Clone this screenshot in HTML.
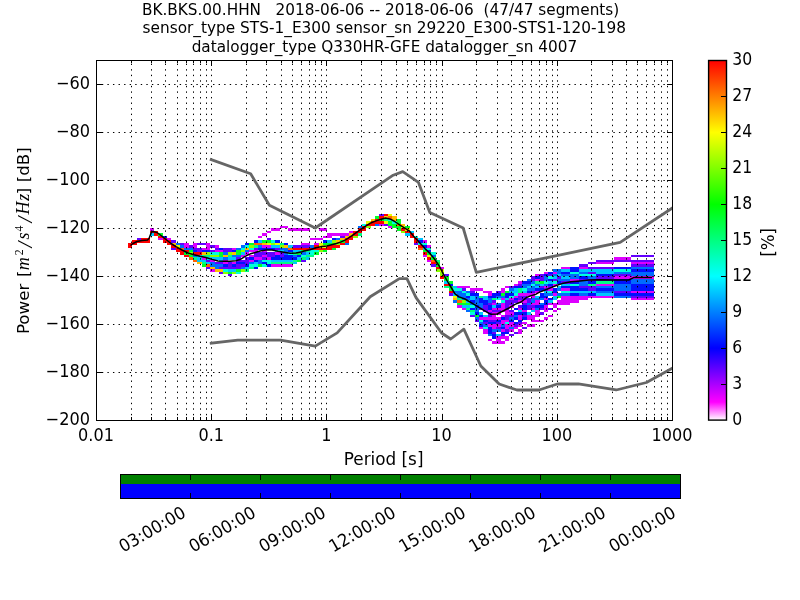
<!DOCTYPE html>
<html><head><meta charset="utf-8"><title>PPSD BK.BKS.00.HHN</title>
<style>html,body{margin:0;padding:0;background:#fff}svg{display:block}text{font-family:"DejaVu Sans","Liberation Sans",sans-serif;fill:#000}</style></head><body>
<svg width="800" height="600" viewBox="0 0 800 600">
<defs><clipPath id="ax"><rect x="96" y="60" width="576" height="360"/></clipPath>
<linearGradient id="pqlx" x1="0" y1="1" x2="0" y2="0"><stop offset="0" stop-color="#fff"/><stop offset="0.05" stop-color="#f0f"/><stop offset="0.2" stop-color="#00f"/><stop offset="0.4" stop-color="#0ff"/><stop offset="0.6" stop-color="#0f0"/><stop offset="0.8" stop-color="#ff0"/><stop offset="1" stop-color="#f00"/></linearGradient></defs>
<rect width="800" height="600" fill="#fff"/>
<g id="heat" shape-rendering="crispEdges"><path fill="#ff0000" d="M128 243h4v5h-4zM132 240h5v5h-5zM137 240h4v3h-4zM141 238h4v5h-4zM145 238h5v5h-5zM150 231h4v2h-4zM154 231h4v5h-4zM158 236h5v2h-5zM163 238h4v5h-4zM167 240h4v5h-4zM171 245h5v3h-5zM176 248h4v4h-4zM180 250h4v5h-4zM184 250h5v2h-5zM184 255h5v2h-5zM193 252h4v3h-4zM197 252h5v3h-5zM293 248h4v2h-4zM297 248h4v2h-4zM301 248h5v2h-5zM306 248h4v2h-4zM310 248h4v2h-4zM314 245h5v5h-5zM319 248h4v2h-4zM323 248h4v2h-4zM327 245h5v5h-5zM332 245h4v3h-4zM336 245h4v3h-4zM340 243h5v2h-5zM345 238h4v5h-4zM349 236h4v4h-4zM353 231h5v5h-5zM358 228h4v5h-4zM362 226h4v5h-4zM366 224h5v2h-5zM371 221h4v5h-4zM375 219h4v5h-4zM379 216h5v3h-5zM379 221h5v3h-5zM384 214h4v2h-4zM401 228h4v3h-4zM405 231h5v2h-5zM410 233h4v5h-4zM414 238h4v5h-4zM418 245h5v3h-5zM423 252h4v3h-4zM427 257h4v3h-4zM431 262h5v2h-5zM436 267h4v2h-4zM440 276h4v3h-4zM444 284h5v2h-5zM449 291h4v2h-4z"/><path fill="#6300ff" d="M137 238h4v2h-4zM171 240h5v3h-5zM171 248h5v2h-5zM180 243h4v2h-4zM189 245h4v3h-4zM193 248h4v2h-4zM197 243h5v2h-5zM197 248h5v4h-5zM202 243h4v2h-4zM206 260h4v2h-4zM206 267h4v2h-4zM210 245h5v3h-5zM210 250h5v2h-5zM215 248h4v2h-4zM215 262h4v2h-4zM219 262h4v2h-4zM219 267h4v2h-4zM219 272h4v2h-4zM223 248h5v4h-5zM223 267h5v2h-5zM228 248h4v4h-4zM228 262h4v7h-4zM228 274h4v2h-4zM232 267h4v2h-4zM236 257h5v5h-5zM236 264h5v5h-5zM241 260h4v2h-4zM241 264h4v3h-4zM245 257h4v7h-4zM254 248h4v2h-4zM254 252h4v5h-4zM258 252h4v5h-4zM262 252h5v3h-5zM262 257h5v3h-5zM267 238h4v2h-4zM267 252h4v5h-4zM271 252h4v5h-4zM275 248h5v2h-5zM280 252h4v5h-4zM293 245h4v3h-4zM297 245h4v3h-4zM301 245h5v3h-5zM301 260h5v2h-5zM306 245h4v3h-4zM340 236h5v2h-5zM379 214h5v2h-5zM384 224h4v2h-4zM414 243h4v2h-4zM431 264h5v3h-5zM444 274h5v2h-5zM449 293h4v3h-4zM462 288h4v3h-4zM470 291h5v2h-5zM470 315h5v2h-5zM475 320h4v2h-4zM479 308h4v2h-4zM483 305h5v7h-5zM483 322h5v2h-5zM488 303h4v2h-4zM488 312h4v5h-4zM488 320h4v2h-4zM492 300h4v3h-4zM492 310h4v2h-4zM492 320h4v2h-4zM492 332h4v2h-4zM496 291h5v2h-5zM496 310h5v2h-5zM496 322h5v2h-5zM496 327h5v2h-5zM501 334h4v2h-4zM505 300h4v10h-4zM505 315h4v5h-4zM505 329h4v3h-4zM509 286h5v2h-5zM509 300h5v5h-5zM509 310h5v2h-5zM509 315h5v2h-5zM509 334h5v2h-5zM514 300h4v3h-4zM514 324h4v3h-4zM514 332h4v2h-4zM518 284h4v2h-4zM518 296h4v4h-4zM518 305h4v3h-4zM518 322h4v2h-4zM522 296h5v4h-5zM522 303h5v2h-5zM522 315h5v2h-5zM522 327h5v2h-5zM527 298h4v5h-4zM527 305h4v5h-4zM531 276h4v5h-4zM531 291h4v2h-4zM531 305h4v3h-4zM540 274h4v7h-4zM540 286h4v2h-4zM540 308h4v2h-4zM540 312h4v3h-4zM544 288h4v3h-4zM548 274h5v2h-5zM548 286h5v2h-5zM548 308h5v2h-5zM553 279h4v2h-4zM557 276h4v3h-4zM561 281h9v3h-9zM579 264h9v3h-9zM579 279h9v2h-9zM579 286h9v2h-9zM588 262h8v2h-8zM588 267h8v2h-8zM588 272h8v2h-8zM588 279h8v2h-8zM588 286h8v5h-8zM596 260h18v2h-18zM596 267h18v2h-18zM596 276h18v5h-18zM614 260h17v2h-17zM614 274h17v2h-17zM614 291h17v2h-17zM631 255h23v2h-23zM631 260h23v2h-23zM631 264h23v3h-23zM631 296h23v2h-23z"/><path fill="#dd00ff" d="M150 228h4v3h-4zM158 238h5v2h-5zM167 238h4v2h-4zM184 243h5v5h-5zM193 243h4v5h-4zM202 248h4v2h-4zM202 257h4v3h-4zM206 243h4v7h-4zM210 260h5v2h-5zM210 269h5v3h-5zM215 245h4v3h-4zM215 250h4v2h-4zM219 250h4v2h-4zM223 260h5v4h-5zM232 248h4v2h-4zM232 262h4v2h-4zM241 255h4v2h-4zM245 252h4v3h-4zM249 250h5v2h-5zM249 255h5v2h-5zM249 260h5v2h-5zM254 250h4v2h-4zM254 257h4v3h-4zM258 236h4v2h-4zM258 257h4v3h-4zM262 233h5v3h-5zM262 245h5v3h-5zM262 250h5v2h-5zM262 255h5v2h-5zM267 231h4v2h-4zM267 245h4v3h-4zM267 257h4v3h-4zM271 228h4v3h-4zM271 264h4v3h-4zM275 228h5v3h-5zM275 252h5v3h-5zM275 264h5v3h-5zM280 226h4v2h-4zM280 264h4v3h-4zM284 226h4v2h-4zM284 264h4v3h-4zM288 228h5v3h-5zM288 264h5v3h-5zM293 228h4v3h-4zM297 228h4v3h-4zM301 228h5v3h-5zM301 243h5v2h-5zM306 228h4v3h-4zM306 243h4v2h-4zM310 238h4v2h-4zM314 238h5v2h-5zM314 243h5v2h-5zM319 228h4v3h-4zM319 238h4v2h-4zM323 228h4v3h-4zM323 236h4v2h-4zM327 233h5v5h-5zM332 233h4v3h-4zM336 233h4v3h-4zM340 233h5v3h-5zM345 233h4v3h-4zM349 231h4v2h-4zM379 224h5v2h-5zM388 226h4v2h-4zM423 240h4v3h-4zM423 255h4v2h-4zM427 245h4v3h-4zM427 260h4v2h-4zM440 267h4v2h-4zM457 286h5v2h-5zM457 305h5v3h-5zM462 286h4v2h-4zM462 308h4v2h-4zM466 286h4v2h-4zM470 288h5v3h-5zM475 288h4v3h-4zM479 288h4v3h-4zM479 317h4v3h-4zM479 327h4v2h-4zM483 291h5v2h-5zM483 317h5v3h-5zM483 329h5v5h-5zM488 291h4v5h-4zM488 310h4v2h-4zM488 317h4v3h-4zM488 324h4v3h-4zM488 339h4v2h-4zM492 303h4v2h-4zM492 308h4v2h-4zM492 312h4v8h-4zM492 324h4v5h-4zM492 341h4v3h-4zM496 308h5v2h-5zM496 312h5v3h-5zM496 317h5v3h-5zM496 324h5v3h-5zM496 336h5v8h-5zM501 288h4v5h-4zM501 298h4v2h-4zM501 303h4v9h-4zM501 315h4v2h-4zM501 320h4v4h-4zM501 329h4v3h-4zM501 336h4v3h-4zM501 341h4v3h-4zM505 286h4v2h-4zM505 310h4v5h-4zM505 320h4v2h-4zM505 324h4v5h-4zM505 336h4v5h-4zM509 298h5v2h-5zM509 305h5v3h-5zM509 312h5v3h-5zM509 322h5v5h-5zM509 329h5v3h-5zM514 284h4v2h-4zM514 296h4v2h-4zM514 327h4v2h-4zM518 281h4v3h-4zM518 293h4v3h-4zM518 300h4v3h-4zM518 308h4v2h-4zM518 315h4v5h-4zM518 324h4v3h-4zM518 329h4v5h-4zM522 293h5v3h-5zM522 300h5v3h-5zM522 310h5v2h-5zM522 322h5v2h-5zM527 293h4v3h-4zM527 315h4v5h-4zM527 324h4v3h-4zM531 293h4v5h-4zM531 303h4v2h-4zM531 308h4v2h-4zM531 315h4v7h-4zM531 324h4v3h-4zM535 274h5v2h-5zM535 279h5v2h-5zM535 291h5v2h-5zM535 300h5v5h-5zM535 310h5v7h-5zM535 320h5v2h-5zM540 320h4v2h-4zM544 272h4v2h-4zM544 286h4v2h-4zM544 298h4v2h-4zM544 305h4v7h-4zM544 317h4v3h-4zM548 288h5v3h-5zM548 303h5v2h-5zM548 315h5v2h-5zM553 272h4v2h-4zM553 284h4v2h-4zM553 293h4v3h-4zM553 303h4v5h-4zM553 310h4v2h-4zM557 300h4v5h-4zM557 308h4v2h-4zM561 267h9v2h-9zM561 288h9v3h-9zM561 296h9v9h-9zM570 279h9v2h-9zM570 296h9v7h-9zM579 267h9v2h-9zM579 296h9v4h-9zM588 296h8v2h-8zM596 262h18v2h-18zM596 284h18v2h-18zM596 296h18v2h-18zM614 257h17v3h-17zM614 276h17v3h-17zM631 262h23v2h-23zM631 276h23v3h-23zM631 291h23v2h-23zM631 298h23v2h-23z"/><path fill="#00c5ff" d="M150 233h4v3h-4zM197 255h5v7h-5zM202 260h4v2h-4zM206 257h4v3h-4zM206 262h4v2h-4zM210 257h5v3h-5zM215 257h4v3h-4zM219 257h4v5h-4zM228 257h4v3h-4zM228 269h4v3h-4zM232 257h4v3h-4zM232 269h4v3h-4zM241 252h4v3h-4zM245 267h4v2h-4zM254 262h4v2h-4zM258 240h4v3h-4zM271 245h4v3h-4zM271 260h4v2h-4zM275 245h5v3h-5zM275 260h5v2h-5zM280 250h4v2h-4zM280 260h4v2h-4zM284 260h4v2h-4zM288 245h5v3h-5zM288 260h5v2h-5zM293 250h4v2h-4zM293 262h4v2h-4zM297 250h4v2h-4zM297 257h4v3h-4zM306 252h4v3h-4zM306 257h4v3h-4zM327 240h5v3h-5zM405 233h5v3h-5zM410 231h4v2h-4zM418 238h5v2h-5zM423 248h4v2h-4zM444 281h5v3h-5zM453 286h4v2h-4zM453 293h4v3h-4zM462 305h4v3h-4zM466 300h4v3h-4zM466 305h4v3h-4zM470 296h5v4h-5zM479 312h4v3h-4zM483 296h5v4h-5zM483 315h5v2h-5zM492 305h4v3h-4zM496 334h5v2h-5zM505 298h4v2h-4zM509 291h5v2h-5zM514 288h4v5h-4zM518 310h4v2h-4zM522 291h5v2h-5zM527 286h4v2h-4zM527 312h4v3h-4zM531 310h4v2h-4zM535 286h5v2h-5zM535 296h5v2h-5zM540 284h4v2h-4zM544 291h4v2h-4zM548 281h5v3h-5zM548 300h5v3h-5zM553 276h4v3h-4zM553 296h4v4h-4zM557 274h4v2h-4zM557 286h4v2h-4zM561 269h9v3h-9zM561 276h9v3h-9zM561 284h9v2h-9zM570 291h9v2h-9zM579 269h9v3h-9zM579 291h9v2h-9zM588 269h8v3h-8zM588 291h8v2h-8zM596 269h18v5h-18zM596 293h18v3h-18z"/><path fill="#00ff2a" d="M158 233h5v3h-5zM184 252h5v3h-5zM189 250h4v2h-4zM189 255h4v2h-4zM202 264h4v3h-4zM219 252h4v5h-4zM228 272h4v2h-4zM236 250h5v5h-5zM236 269h5v3h-5zM249 243h5v2h-5zM258 264h4v3h-4zM262 240h5v3h-5zM267 240h4v3h-4zM297 252h4v3h-4zM297 260h4v2h-4zM301 250h5v2h-5zM314 252h5v3h-5zM323 243h4v2h-4zM323 250h4v2h-4zM327 243h5v2h-5zM332 243h4v2h-4zM332 248h4v2h-4zM340 240h5v3h-5zM375 216h4v3h-4zM379 219h5v2h-5zM388 221h4v5h-4zM392 224h5v4h-5zM397 219h4v5h-4zM397 226h4v5h-4zM405 226h5v2h-5zM423 250h4v2h-4zM427 252h4v3h-4zM431 257h5v3h-5zM436 262h4v5h-4zM444 276h5v5h-5zM449 281h4v3h-4zM449 286h4v5h-4zM457 303h5v2h-5zM462 303h4v2h-4zM466 303h4v2h-4zM475 315h4v2h-4zM501 293h4v3h-4zM505 291h4v2h-4zM540 281h4v3h-4zM557 296h4v2h-4z"/><path fill="#0011ff" d="M163 236h4v2h-4zM193 250h4v2h-4zM202 250h4v2h-4zM206 250h4v2h-4zM219 248h4v2h-4zM223 264h5v3h-5zM232 250h4v2h-4zM232 264h4v3h-4zM236 262h5v2h-5zM241 262h4v2h-4zM245 243h4v2h-4zM245 264h4v3h-4zM249 257h5v3h-5zM254 240h4v3h-4zM254 260h4v2h-4zM254 267h4v2h-4zM258 248h4v2h-4zM262 248h5v2h-5zM262 262h5v2h-5zM267 248h4v2h-4zM267 264h4v3h-4zM271 248h4v2h-4zM271 257h4v3h-4zM275 240h5v3h-5zM275 255h5v5h-5zM280 257h4v3h-4zM284 243h4v2h-4zM284 255h4v5h-4zM288 250h5v2h-5zM288 255h5v5h-5zM293 257h4v3h-4zM297 255h4v2h-4zM323 240h4v3h-4zM332 238h4v2h-4zM418 240h5v3h-5zM423 245h4v3h-4zM427 250h4v2h-4zM449 284h4v2h-4zM466 296h4v2h-4zM470 293h5v3h-5zM470 300h5v3h-5zM470 308h5v2h-5zM475 293h4v3h-4zM475 305h4v3h-4zM475 312h4v3h-4zM479 298h4v5h-4zM479 315h4v2h-4zM479 324h4v3h-4zM483 300h5v5h-5zM483 320h5v2h-5zM488 296h4v2h-4zM488 305h4v5h-4zM488 322h4v2h-4zM488 327h4v7h-4zM492 293h4v5h-4zM492 322h4v2h-4zM492 334h4v5h-4zM496 293h5v3h-5zM496 305h5v3h-5zM496 320h5v2h-5zM501 317h4v3h-4zM501 327h4v2h-4zM501 332h4v2h-4zM505 293h4v5h-4zM505 332h4v2h-4zM509 293h5v3h-5zM509 320h5v2h-5zM514 286h4v2h-4zM514 298h4v2h-4zM514 308h4v2h-4zM514 312h4v3h-4zM514 317h4v3h-4zM514 322h4v2h-4zM518 286h4v2h-4zM518 312h4v3h-4zM518 320h4v2h-4zM522 281h5v3h-5zM522 305h5v5h-5zM522 312h5v3h-5zM522 317h5v3h-5zM527 281h4v3h-4zM527 291h4v2h-4zM535 276h5v3h-5zM535 288h5v3h-5zM535 305h5v3h-5zM540 288h4v3h-4zM540 293h4v5h-4zM540 305h4v3h-4zM544 274h4v2h-4zM544 296h4v2h-4zM544 300h4v5h-4zM548 272h5v2h-5zM548 279h5v2h-5zM548 284h5v2h-5zM548 298h5v2h-5zM553 288h4v5h-4zM557 281h4v3h-4zM561 272h9v2h-9zM561 286h9v2h-9zM570 267h9v5h-9zM570 281h9v3h-9zM570 286h9v5h-9zM570 293h9v3h-9zM579 276h9v3h-9zM579 288h9v3h-9zM588 281h8v3h-8zM588 293h8v3h-8zM596 274h18v2h-18zM596 288h18v3h-18zM614 267h17v2h-17zM614 279h17v5h-17zM614 293h17v3h-17zM631 269h23v3h-23zM631 284h23v7h-23zM631 293h23v3h-23z"/><path fill="#ffbe00" d="M171 243h5v2h-5zM197 262h5v2h-5zM202 252h4v3h-4zM210 267h5v2h-5zM215 269h4v3h-4zM219 269h4v3h-4zM223 255h5v2h-5zM232 252h4v3h-4zM245 248h4v2h-4zM262 243h5v2h-5zM284 245h4v3h-4zM336 240h4v3h-4zM340 238h5v2h-5zM345 236h4v2h-4zM349 233h4v3h-4zM371 219h4v2h-4zM384 216h4v3h-4zM392 216h5v5h-5zM401 224h4v2h-4zM453 298h4v2h-4z"/><path fill="#006bff" d="M176 243h4v2h-4zM180 245h4v3h-4zM184 248h5v2h-5zM189 248h4v2h-4zM193 255h4v2h-4zM210 262h5v5h-5zM215 264h4v5h-4zM219 264h4v3h-4zM223 252h5v3h-5zM223 257h5v3h-5zM232 255h4v2h-4zM236 248h5v2h-5zM236 255h5v2h-5zM241 245h4v3h-4zM241 267h4v2h-4zM245 250h4v2h-4zM249 262h5v2h-5zM258 245h4v3h-4zM258 260h4v4h-4zM280 248h4v2h-4zM284 248h4v7h-4zM293 255h4v2h-4zM301 252h5v3h-5zM310 245h4v3h-4zM336 238h4v2h-4zM345 243h4v2h-4zM358 226h4v2h-4zM375 224h4v2h-4zM431 255h5v2h-5zM453 291h4v2h-4zM453 300h4v3h-4zM457 291h5v7h-5zM462 293h4v7h-4zM466 291h4v2h-4zM466 298h4v2h-4zM466 310h4v2h-4zM470 303h5v2h-5zM475 296h4v9h-4zM475 308h4v4h-4zM475 317h4v3h-4zM479 303h4v5h-4zM479 322h4v2h-4zM483 324h5v3h-5zM488 298h4v5h-4zM488 334h4v2h-4zM492 329h4v3h-4zM496 296h5v2h-5zM496 303h5v2h-5zM496 329h5v3h-5zM501 296h4v2h-4zM501 324h4v3h-4zM509 288h5v3h-5zM509 317h5v3h-5zM509 327h5v2h-5zM514 315h4v2h-4zM522 284h5v4h-5zM527 279h4v2h-4zM527 284h4v2h-4zM527 288h4v3h-4zM527 303h4v2h-4zM531 281h4v3h-4zM531 286h4v5h-4zM531 298h4v5h-4zM535 284h5v2h-5zM535 298h5v2h-5zM535 308h5v2h-5zM540 298h4v2h-4zM540 303h4v2h-4zM544 276h4v5h-4zM544 284h4v2h-4zM544 293h4v3h-4zM548 293h5v3h-5zM553 269h4v3h-4zM553 274h4v2h-4zM557 269h4v5h-4zM557 279h4v2h-4zM557 288h4v3h-4zM557 293h4v3h-4zM561 274h9v2h-9zM561 279h9v2h-9zM561 293h9v3h-9zM570 274h9v5h-9zM579 272h9v2h-9zM579 281h9v5h-9zM579 293h9v3h-9zM588 276h8v3h-8zM596 286h18v2h-18zM596 291h18v2h-18zM614 272h17v2h-17zM614 284h17v7h-17zM614 296h17v2h-17zM631 267h23v2h-23zM631 272h23v4h-23zM631 279h23v5h-23z"/><path fill="#e6ff00" d="M176 245h4v3h-4zM267 243h4v2h-4zM275 243h5v2h-5zM319 243h4v5h-4zM323 245h4v3h-4zM366 221h5v3h-5zM384 221h4v3h-4zM388 214h4v2h-4zM401 226h4v2h-4zM405 228h5v3h-5zM427 255h4v2h-4zM440 269h4v3h-4zM453 296h4v2h-4z"/><path fill="#ff6300" d="M180 248h4v2h-4zM189 257h4v3h-4zM193 260h4v2h-4zM206 264h4v3h-4zM254 243h4v2h-4zM258 243h4v2h-4zM288 248h5v2h-5zM388 216h4v3h-4zM397 224h4v2h-4zM418 248h5v2h-5zM431 260h5v2h-5zM457 300h5v3h-5z"/><path fill="#8bff00" d="M189 252h4v3h-4zM206 252h4v3h-4zM210 255h5v2h-5zM215 255h4v2h-4zM223 272h5v2h-5zM228 252h4v3h-4zM232 272h4v2h-4zM241 250h4v2h-4zM241 269h4v3h-4zM249 245h5v3h-5zM271 243h4v2h-4zM280 245h4v3h-4zM319 250h4v2h-4zM332 240h4v3h-4zM336 243h4v2h-4zM353 236h5v2h-5zM366 226h5v2h-5zM401 231h4v2h-4zM436 269h4v3h-4zM440 272h4v4h-4zM462 300h4v3h-4z"/><path fill="#00ff84" d="M193 257h4v3h-4zM202 255h4v2h-4zM202 262h4v2h-4zM206 255h4v2h-4zM228 255h4v2h-4zM245 269h4v3h-4zM249 267h5v2h-5zM254 245h4v3h-4zM271 262h4v2h-4zM275 262h5v2h-5zM280 243h4v2h-4zM280 262h4v2h-4zM284 262h4v2h-4zM288 262h5v2h-5zM293 252h4v3h-4zM293 260h4v2h-4zM301 257h5v3h-5zM306 250h4v2h-4zM306 255h4v2h-4zM310 255h4v2h-4zM358 233h4v3h-4zM384 219h4v2h-4zM436 260h4v2h-4zM444 286h5v2h-5zM457 298h5v2h-5zM466 308h4v2h-4zM470 310h5v2h-5zM479 296h4v2h-4zM492 298h4v2h-4zM518 288h4v5h-4zM535 281h5v3h-5zM588 284h8v2h-8zM596 281h18v3h-18z"/><path fill="#00ffde" d="M210 252h5v3h-5zM215 252h4v3h-4zM223 269h5v3h-5zM236 272h5v2h-5zM241 248h4v2h-4zM245 245h4v3h-4zM249 248h5v2h-5zM249 264h5v3h-5zM254 264h4v3h-4zM262 260h5v2h-5zM262 264h5v3h-5zM267 260h4v4h-4zM271 240h4v3h-4zM275 250h5v2h-5zM288 252h5v3h-5zM301 255h5v2h-5zM310 250h4v5h-4zM314 250h5v2h-5zM362 224h4v2h-4zM388 219h4v2h-4zM392 221h5v3h-5zM414 236h4v2h-4zM418 243h5v2h-5zM423 243h4v2h-4zM427 248h4v2h-4zM431 252h5v3h-5zM453 288h4v3h-4zM457 288h5v3h-5zM462 291h4v2h-4zM466 293h4v3h-4zM470 305h5v3h-5zM470 312h5v3h-5zM479 320h4v2h-4zM483 327h5v2h-5zM496 298h5v2h-5zM501 300h4v3h-4zM505 322h4v2h-4zM509 296h5v2h-5zM514 293h4v3h-4zM522 288h5v3h-5zM531 284h4v2h-4zM544 281h4v3h-4zM548 276h5v3h-5zM548 291h5v2h-5zM553 281h4v3h-4zM561 291h9v2h-9zM570 272h9v2h-9zM570 284h9v2h-9zM579 274h9v2h-9zM588 274h8v2h-8zM614 269h17v3h-17z"/></g>
<path d="M131.5 420V60M151.5 420V60M165.5 420V60M177.5 420V60M186.5 420V60M193.5 420V60M200.5 420V60M206.5 420V60M211.5 420V60M246.5 420V60M266.5 420V60M281.5 420V60M292.5 420V60M301.5 420V60M309.5 420V60M315.5 420V60M321.5 420V60M326.5 420V60M361.5 420V60M381.5 420V60M396.5 420V60M407.5 420V60M416.5 420V60M424.5 420V60M430.5 420V60M436.5 420V60M442.5 420V60M476.5 420V60M497.5 420V60M511.5 420V60M522.5 420V60M531.5 420V60M539.5 420V60M546.5 420V60M552.5 420V60M557.5 420V60M591.5 420V60M612.5 420V60M626.5 420V60M637.5 420V60M646.5 420V60M654.5 420V60M661.5 420V60M667.5 420V60" stroke="#000" stroke-width="1" stroke-dasharray="1.39 4.17" stroke-dashoffset="0.85" fill="none"/>
<path d="M96 372.5H672M96 324.5H672M96 276.5H672M96 228.5H672M96 180.5H672M96 132.5H672M96 84.5H672" stroke="#000" stroke-width="1" stroke-dasharray="1.39 4.17" stroke-dashoffset="-0.3" fill="none"/>
<g clip-path="url(#ax)" fill="none" stroke="#666" stroke-width="2.78" stroke-linejoin="round" stroke-linecap="square">
<polyline points="211.20,159.60 250.65,173.77 269.39,205.20 315.24,228.00 393.19,175.19 402.75,171.59 418.48,182.40 429.81,212.39 463.20,228.01 476.28,272.39 620.16,242.41 672.00,208.25"/>
<polyline points="211.20,343.20 237.75,340.08 280.56,340.07 315.24,346.08 337.16,332.87 370.20,296.75 399.38,278.64 406.92,278.63 416.04,297.60 441.60,333.00 450.72,338.99 463.85,329.11 480.82,366.01 499.16,383.99 516.85,390.00 538.96,390.00 557.30,384.00 578.40,383.97 616.23,389.98 646.44,382.51 672.00,368.35"/>
</g>
<polyline fill="none" stroke="#000" stroke-width="1.5" stroke-linejoin="round" points="130.5,245.5 133.0,243.5 137.0,241.5 142.0,240.5 147.5,240.0 149.0,238.5 151.5,232.0 153.0,231.5 157.0,232.5 161.0,235.5 166.0,239.5 171.0,243.5 176.0,246.7 182.0,250.0 188.0,253.0 194.0,254.8 200.0,256.3 206.0,257.5 212.0,259.4 218.0,261.0 224.0,261.3 230.0,261.3 236.0,260.7 240.8,259.2 245.6,256.2 250.4,253.8 255.2,252.5 260.0,251.0 266.0,250.1 272.0,250.1 278.0,251.3 284.0,252.3 290.0,253.2 296.0,253.0 302.0,251.8 304.0,251.0 310.0,249.8 316.0,247.7 322.0,246.5 326.8,245.9 331.6,244.7 336.4,243.5 341.2,241.9 346.0,239.6 352.0,235.6 358.0,231.4 364.0,227.2 370.0,223.3 376.0,220.9 382.0,219.0 385.6,218.0 389.8,218.9 394.0,221.0 400.0,225.2 406.0,228.8 409.6,231.2 413.4,236.0 419.0,242.0 425.0,248.6 429.8,253.4 434.5,259.0 439.6,266.6 443.8,275.0 448.4,283.0 451.8,288.5 454.8,293.6 459.0,296.9 465.0,299.0 471.0,302.6 477.0,306.2 483.0,309.8 489.0,313.4 491.0,314.3 497.0,314.0 503.0,311.0 509.0,308.0 515.0,304.4 521.0,302.0 527.0,297.2 531.2,295.6 536.0,294.2 539.0,292.4 545.0,290.0 551.0,287.6 557.0,285.2 562.0,283.6 571.0,281.8 580.0,280.9 589.0,280.0 598.0,279.8 614.0,280.0 628.8,280.0 633.6,277.6 652.0,277.6"/>
<path d="M131.5 420v-2.8M131.5 60v2.8M151.5 420v-2.8M151.5 60v2.8M165.5 420v-2.8M165.5 60v2.8M177.5 420v-2.8M177.5 60v2.8M186.5 420v-2.8M186.5 60v2.8M193.5 420v-2.8M193.5 60v2.8M200.5 420v-2.8M200.5 60v2.8M206.5 420v-2.8M206.5 60v2.8M211.5 420v-5.5M211.5 60v5.5M246.5 420v-2.8M246.5 60v2.8M266.5 420v-2.8M266.5 60v2.8M281.5 420v-2.8M281.5 60v2.8M292.5 420v-2.8M292.5 60v2.8M301.5 420v-2.8M301.5 60v2.8M309.5 420v-2.8M309.5 60v2.8M315.5 420v-2.8M315.5 60v2.8M321.5 420v-2.8M321.5 60v2.8M326.5 420v-5.5M326.5 60v5.5M361.5 420v-2.8M361.5 60v2.8M381.5 420v-2.8M381.5 60v2.8M396.5 420v-2.8M396.5 60v2.8M407.5 420v-2.8M407.5 60v2.8M416.5 420v-2.8M416.5 60v2.8M424.5 420v-2.8M424.5 60v2.8M430.5 420v-2.8M430.5 60v2.8M436.5 420v-2.8M436.5 60v2.8M442.5 420v-5.5M442.5 60v5.5M476.5 420v-2.8M476.5 60v2.8M497.5 420v-2.8M497.5 60v2.8M511.5 420v-2.8M511.5 60v2.8M522.5 420v-2.8M522.5 60v2.8M531.5 420v-2.8M531.5 60v2.8M539.5 420v-2.8M539.5 60v2.8M546.5 420v-2.8M546.5 60v2.8M552.5 420v-2.8M552.5 60v2.8M557.5 420v-5.5M557.5 60v5.5M591.5 420v-2.8M591.5 60v2.8M612.5 420v-2.8M612.5 60v2.8M626.5 420v-2.8M626.5 60v2.8M637.5 420v-2.8M637.5 60v2.8M646.5 420v-2.8M646.5 60v2.8M654.5 420v-2.8M654.5 60v2.8M661.5 420v-2.8M661.5 60v2.8M667.5 420v-2.8M667.5 60v2.8M96 372.5h5.5M672 372.5h-5.5M96 324.5h5.5M672 324.5h-5.5M96 276.5h5.5M672 276.5h-5.5M96 228.5h5.5M672 228.5h-5.5M96 180.5h5.5M672 180.5h-5.5M96 132.5h5.5M672 132.5h-5.5M96 84.5h5.5M672 84.5h-5.5" stroke="#000" stroke-width="1" fill="none" shape-rendering="crispEdges"/>
<rect x="96.5" y="60.5" width="576" height="360" fill="none" stroke="#000" stroke-width="1" shape-rendering="crispEdges"/>
<text transform="translate(90.00,425.20) scale(0.97,1.04)" font-size="16.67" text-anchor="end">−200</text>
<text transform="translate(90.00,377.20) scale(0.97,1.04)" font-size="16.67" text-anchor="end">−180</text>
<text transform="translate(90.00,329.20) scale(0.97,1.04)" font-size="16.67" text-anchor="end">−160</text>
<text transform="translate(90.00,281.20) scale(0.97,1.04)" font-size="16.67" text-anchor="end">−140</text>
<text transform="translate(90.00,233.20) scale(0.97,1.04)" font-size="16.67" text-anchor="end">−120</text>
<text transform="translate(90.00,185.20) scale(0.97,1.04)" font-size="16.67" text-anchor="end">−100</text>
<text transform="translate(90.00,137.20) scale(0.97,1.04)" font-size="16.67" text-anchor="end">−80</text>
<text transform="translate(90.00,89.20) scale(0.97,1.04)" font-size="16.67" text-anchor="end">−60</text>
<text transform="translate(96.00,441.00) scale(0.965,1.04)" font-size="16.67" text-anchor="middle">0.01</text>
<text transform="translate(211.20,441.00) scale(0.965,1.04)" font-size="16.67" text-anchor="middle">0.1</text>
<text transform="translate(326.40,441.00) scale(0.965,1.04)" font-size="16.67" text-anchor="middle">1</text>
<text transform="translate(441.60,441.00) scale(0.965,1.04)" font-size="16.67" text-anchor="middle">10</text>
<text transform="translate(556.80,441.00) scale(0.965,1.04)" font-size="16.67" text-anchor="middle">100</text>
<text transform="translate(672.00,441.00) scale(0.965,1.04)" font-size="16.67" text-anchor="middle">1000</text>
<text transform="translate(383.60,465.00) scale(1.01,1.04)" font-size="16.67" text-anchor="middle">Period [s]</text>
<text transform="translate(29.2,0) rotate(-90)" font-size="16.67"><tspan x="-334.1" y="0.0" >Power</tspan><tspan x="-276.9" y="0.0" >[</tspan><tspan x="-270.3" y="0.0" font-style="italic" font-family="'Liberation Serif','DejaVu Serif',serif" font-size="18">m</tspan><tspan x="-255.2" y="-6.5" font-family="'Liberation Serif','DejaVu Serif',serif" font-size="11.7">2</tspan><tspan x="-247.6" y="2.5" font-style="italic" font-family="'Liberation Serif','DejaVu Serif',serif" font-size="21">/</tspan><tspan x="-239.6" y="0.0" font-style="italic" font-family="'Liberation Serif','DejaVu Serif',serif" font-size="18">s</tspan><tspan x="-231.6" y="-6.5" font-family="'Liberation Serif','DejaVu Serif',serif" font-size="11.7">4</tspan><tspan x="-222.6" y="2.5" font-style="italic" font-family="'Liberation Serif','DejaVu Serif',serif" font-size="21">/</tspan><tspan x="-214.6" y="0.0" font-style="italic" font-family="'Liberation Serif','DejaVu Serif',serif" font-size="18">H</tspan><tspan x="-200.8" y="0.0" font-style="italic" font-family="'Liberation Serif','DejaVu Serif',serif" font-size="18">z</tspan><tspan x="-194.3" y="0.0" >]</tspan><tspan x="-182.3" y="0.0" >[dB]</tspan></text>
<text transform="translate(380.60,15.10) scale(1,1.04)" font-size="15.28" text-anchor="middle" xml:space="preserve">BK.BKS.00.HHN   2018-06-06 -- 2018-06-06  (47/47 segments)</text>
<text transform="translate(384.20,32.90) scale(1.004,1.04)" font-size="15.28" text-anchor="middle">sensor_type STS-1_E300 sensor_sn 29220_E300-STS1-120-198</text>
<text transform="translate(384.40,51.50) scale(1,1.04)" font-size="15.28" text-anchor="middle">datalogger_type Q330HR-GFE datalogger_sn 4007</text>
<rect x="708.6" y="60.5" width="17.9" height="359.6" fill="url(#pqlx)" stroke="#000" stroke-width="1.4"/>
<text transform="translate(732.20,425.20) scale(0.94,1.04)" font-size="16.67" text-anchor="start">0</text>
<text transform="translate(732.20,389.20) scale(0.94,1.04)" font-size="16.67" text-anchor="start">3</text>
<text transform="translate(732.20,353.20) scale(0.94,1.04)" font-size="16.67" text-anchor="start">6</text>
<text transform="translate(732.20,317.20) scale(0.94,1.04)" font-size="16.67" text-anchor="start">9</text>
<text transform="translate(732.20,281.20) scale(0.94,1.04)" font-size="16.67" text-anchor="start">12</text>
<text transform="translate(732.20,245.20) scale(0.94,1.04)" font-size="16.67" text-anchor="start">15</text>
<text transform="translate(732.20,209.20) scale(0.94,1.04)" font-size="16.67" text-anchor="start">18</text>
<text transform="translate(732.20,173.20) scale(0.94,1.04)" font-size="16.67" text-anchor="start">21</text>
<text transform="translate(732.20,137.20) scale(0.94,1.04)" font-size="16.67" text-anchor="start">24</text>
<text transform="translate(732.20,101.20) scale(0.94,1.04)" font-size="16.67" text-anchor="start">27</text>
<text transform="translate(732.20,65.20) scale(0.94,1.04)" font-size="16.67" text-anchor="start">30</text>
<path d="M726 384.5h-5.5M726 348.5h-5.5M726 312.5h-5.5M726 276.5h-5.5M726 240.5h-5.5M726 204.5h-5.5M726 168.5h-5.5M726 132.5h-5.5M726 96.5h-5.5" stroke="#000" stroke-width="1" fill="none" shape-rendering="crispEdges"/>
<text transform="translate(774.00,242.30) rotate(-90) scale(1,1.04)" font-size="16.67" text-anchor="middle">[%]</text>
<rect x="120" y="474" width="560" height="10" fill="#008000" shape-rendering="crispEdges"/>
<rect x="120" y="484" width="560" height="14" fill="#0000ff" shape-rendering="crispEdges"/>
<text transform="translate(187.00,516.00) rotate(-30) scale(0.985,1.04)" font-size="16.67" text-anchor="end">03:00:00</text>
<text transform="translate(257.00,516.00) rotate(-30) scale(0.985,1.04)" font-size="16.67" text-anchor="end">06:00:00</text>
<text transform="translate(327.00,516.00) rotate(-30) scale(0.985,1.04)" font-size="16.67" text-anchor="end">09:00:00</text>
<text transform="translate(397.00,516.00) rotate(-30) scale(0.985,1.04)" font-size="16.67" text-anchor="end">12:00:00</text>
<text transform="translate(467.00,516.00) rotate(-30) scale(0.985,1.04)" font-size="16.67" text-anchor="end">15:00:00</text>
<text transform="translate(537.00,516.00) rotate(-30) scale(0.985,1.04)" font-size="16.67" text-anchor="end">18:00:00</text>
<text transform="translate(607.00,516.00) rotate(-30) scale(0.985,1.04)" font-size="16.67" text-anchor="end">21:00:00</text>
<text transform="translate(677.00,516.00) rotate(-30) scale(0.985,1.04)" font-size="16.67" text-anchor="end">00:00:00</text>
<path d="M190.5 474v5.5M190.5 498v-5.5M260.5 474v5.5M260.5 498v-5.5M330.5 474v5.5M330.5 498v-5.5M400.5 474v5.5M400.5 498v-5.5M470.5 474v5.5M470.5 498v-5.5M540.5 474v5.5M540.5 498v-5.5M610.5 474v5.5M610.5 498v-5.5" stroke="#000" stroke-width="1" fill="none" shape-rendering="crispEdges"/>
<rect x="120.5" y="474.5" width="560" height="24" fill="none" stroke="#000" stroke-width="1" shape-rendering="crispEdges"/>
</svg></body></html>
